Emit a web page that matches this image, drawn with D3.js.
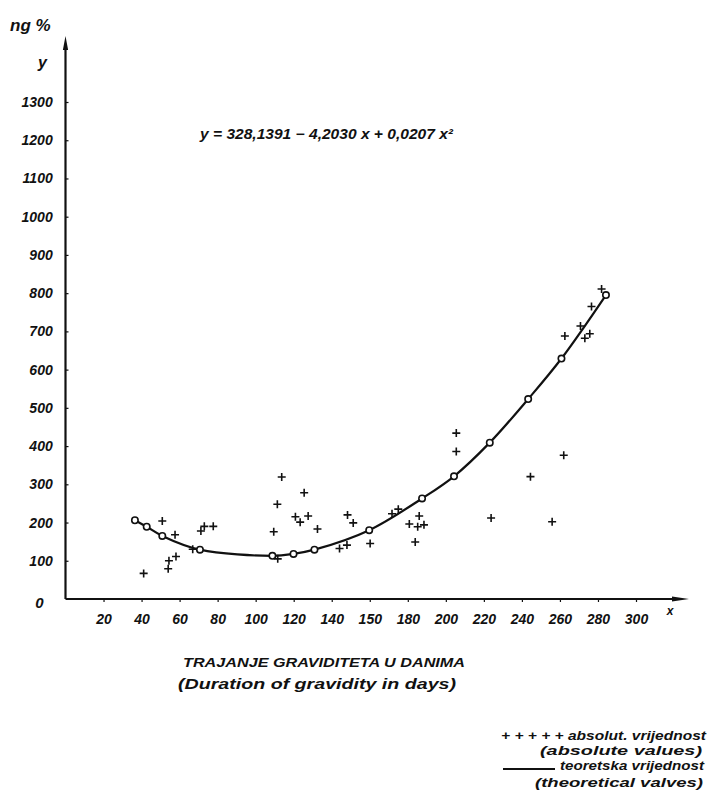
<!DOCTYPE html>
<html>
<head>
<meta charset="utf-8">
<script src="https://cdn.jsdelivr.net/npm/d3@7"></script>
<style>
  html, body { margin: 0; padding: 0; background: #fff; }
  svg { display: block; }
  text { font-family: "Liberation Sans", "DejaVu Sans", sans-serif; font-style: italic; font-weight: bold; fill: #111; }
</style>
</head>
<body>
<div id="chart"></div>
<script>
// ---- data ----
const xTickValues = [20, 40, 60, 80, 100, 120, 140, 160, 180, 200, 220, 240, 260, 280, 300];
const xTickLabels = ["20", "40", "60", "80", "100", "120", "140", "150", "180", "200", "220", "240", "260", "280", "300"];
const yTickValues = [0, 100, 200, 300, 400, 500, 600, 700, 800, 900, 1000, 1100, 1200, 1300];
const yTickLabels = ["0", "100", "200", "300", "400", "500", "600", "700", "800", "900", "1000", "1100", "1200", "1300"];

// absolute values (+ marks)
const absDays = [50.9, 41.1, 57.6, 54.4, 58.1, 54.0, 71.2, 73.0, 77.7, 66.9,
                 113.7, 125.5, 111.4, 120.9, 123.4, 127.6, 132.5, 109.5, 111.6,
                 148.3, 151.3, 144.1, 148.0, 160.2, 171.7, 175.0, 186.0, 180.8, 185.2, 188.5, 183.9,
                 205.5, 205.5, 223.8, 244.5, 262.0, 255.9,
                 281.9, 276.6, 270.8, 262.6, 273.1, 275.7];
const absValues = [204, 67, 168, 100, 111, 79, 178, 190, 190, 130,
                   319, 278, 248, 215, 201, 217, 183, 176, 105,
                   220, 199, 132, 141, 145, 223, 235, 217, 196, 189, 194, 149,
                   434, 386, 212, 320, 376, 202,
                   811, 765, 714, 688, 682, 694];

// theoretical values (circles on the curve)
const theoDays = [36.5, 42.7, 50.9, 70.7, 108.8, 119.9, 130.9, 159.7, 187.5, 204.3, 223.1, 243.3, 260.8, 284.2];
const theoValues = [206, 189, 165, 129, 113, 118, 129, 180, 263, 321, 409, 523, 629, 795];

// ---- layout ----
const W = 716, H = 792;
const svg = d3.select("#chart").append("svg").attr("width", W).attr("height", H);

const x = d3.scaleLinear().domain([0, 300]).range([65.5, 636]);
const y = d3.scaleLinear().domain([0, 1300]).range([599, 102]);

const axisColor = "#111";

// Y axis line with arrow
svg.append("line").attr("x1", x(0)).attr("x2", x(0)).attr("y1", y(0)).attr("y2", 44)
  .attr("stroke", axisColor).attr("stroke-width", 2.2);
svg.append("path").attr("d", `M${x(0)-2.6},50 L${x(0)},36 L${x(0)+2.6},50 Z`).attr("fill", axisColor);

// X axis line with arrow
svg.append("line").attr("x1", x(0)).attr("x2", 676).attr("y1", y(0)).attr("y2", y(0))
  .attr("stroke", axisColor).attr("stroke-width", 2);
svg.append("path").attr("d", `M672,${y(0)-2.6} L689,${y(0)} L672,${y(0)+2.6} Z`).attr("fill", axisColor);

// Y ticks
const yAxis = d3.axisLeft(y).tickValues(yTickValues).tickSize(-3).tickPadding(10)
  .tickFormat((d, i) => yTickLabels[i]);
const gy = svg.append("g").attr("transform", `translate(${x(0)},0)`).call(yAxis);
gy.select(".domain").remove();
gy.selectAll(".tick line").attr("stroke", axisColor).attr("stroke-width", 1.2);
gy.selectAll(".tick text").attr("font-size", 14).attr("dx", "-0.2em").attr("fill", "#111")
  .style("font-family", "'Liberation Sans', sans-serif").style("font-style", "italic").style("font-weight", "bold");
gy.selectAll(".tick").filter(d => d === 0).select("line").remove();
gy.selectAll(".tick").filter(d => d === 0).select("text").attr("dy", "0.55em").attr("dx", "-0.8em").attr("font-size", 15);

// X ticks
const xAxis = d3.axisBottom(x).tickValues(xTickValues).tickSize(3).tickPadding(12)
  .tickFormat((d, i) => xTickLabels[i]);
const gx = svg.append("g").attr("transform", `translate(0,${y(0)})`).call(xAxis);
gx.select(".domain").remove();
gx.selectAll(".tick line").attr("stroke", axisColor).attr("stroke-width", 1.2);
gx.selectAll(".tick text").attr("font-size", 14).attr("fill", "#111")
  .style("font-family", "'Liberation Sans', sans-serif").style("font-style", "italic").style("font-weight", "bold");

// axis titles
svg.append("text").attr("x", 670).attr("y", 615).attr("font-size", 12).attr("text-anchor", "middle").text("x");
svg.append("text").attr("x", 10).attr("y", 31).attr("font-size", 17).text("ng %");
svg.append("text").attr("x", 38).attr("y", 68).attr("font-size", 16).text("y");

// equation
svg.append("text").attr("x", 200).attr("y", 139).attr("font-size", 14)
  .attr("textLength", 253).attr("lengthAdjust", "spacingAndGlyphs")
  .text("y = 328,1391 − 4,2030 x  +  0,0207 x²");

// theoretical curve
const line = d3.line().x((d, i) => x(theoDays[i])).y((d, i) => y(theoValues[i])).curve(d3.curveCatmullRom.alpha(0.5));
svg.append("path").datum(theoValues).attr("d", line)
  .attr("fill", "none").attr("stroke", "#111").attr("stroke-width", 2.2);

svg.append("g").selectAll("circle").data(theoValues).join("circle")
  .attr("cx", (d, i) => x(theoDays[i])).attr("cy", d => y(d)).attr("r", 3.2)
  .attr("fill", "#fff").attr("stroke", "#111").attr("stroke-width", 1.6);

// absolute values as + marks
svg.append("g").selectAll("path").data(absValues).join("path")
  .attr("d", (d, i) => {
    const cx = x(absDays[i]), cy = y(d), s = 4;
    return `M${cx - s},${cy} H${cx + s} M${cx},${cy - s} V${cy + s}`;
  })
  .attr("stroke", "#111").attr("stroke-width", 1.6).attr("fill", "none");

// bottom axis captions
svg.append("text").attr("x", 183).attr("y", 667).attr("font-size", 13)
  .attr("textLength", 282).attr("lengthAdjust", "spacingAndGlyphs")
  .text("TRAJANJE  GRAVIDITETA  U  DANIMA");
svg.append("text").attr("x", 178).attr("y", 689).attr("font-size", 14)
  .attr("textLength", 278).attr("lengthAdjust", "spacingAndGlyphs")
  .text("(Duration of gravidity in days)");

// legend
svg.append("text").attr("x", 501).attr("y", 740).attr("font-size", 12)
  .attr("textLength", 205).attr("lengthAdjust", "spacingAndGlyphs")
  .text("+ + + + + absolut. vrijednost");
svg.append("text").attr("x", 540).attr("y", 755).attr("font-size", 12.5)
  .attr("textLength", 162).attr("lengthAdjust", "spacingAndGlyphs")
  .text("(absolute values)");
svg.append("line").attr("x1", 503).attr("x2", 555).attr("y1", 769).attr("y2", 769)
  .attr("stroke", "#111").attr("stroke-width", 2.2);
svg.append("text").attr("x", 560).attr("y", 770).attr("font-size", 12)
  .attr("textLength", 144).attr("lengthAdjust", "spacingAndGlyphs")
  .text("teoretska vrijednost");
svg.append("text").attr("x", 535).attr("y", 787).attr("font-size", 12.5)
  .attr("textLength", 168).attr("lengthAdjust", "spacingAndGlyphs")
  .text("(theoretical valves)");
</script>
</body>
</html>
